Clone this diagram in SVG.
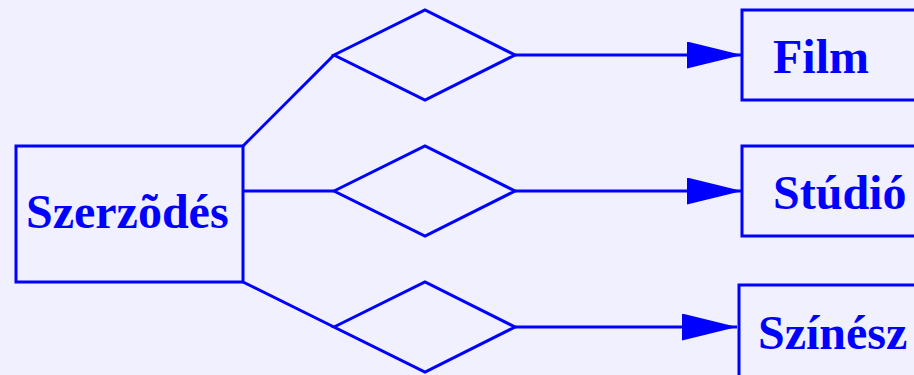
<svg xmlns="http://www.w3.org/2000/svg" width="914" height="375" viewBox="0 0 914 375">
<defs>
<style>
.s{fill:none;stroke:#0000ff;stroke-width:3}
.t{font-family:"Liberation Serif","Times New Roman",serif;font-weight:bold;font-size:48px;fill:#0000ff}
</style>
<marker id="ah" markerUnits="userSpaceOnUse" markerWidth="56" markerHeight="28" refX="55" refY="13.5" orient="auto">
<polygon points="0,0 55,13.5 0,27" fill="#0000ff"/>
</marker>
</defs>
<rect width="914" height="375" fill="#f0f0ff"/>
<g id="connectors" class="s">
<line x1="243" y1="146" x2="334" y2="55"/>
<line x1="243" y1="191" x2="334" y2="191"/>
<line x1="243" y1="282" x2="334" y2="327"/>
<line x1="515" y1="55" x2="742" y2="55" marker-end="url(#ah)"/>
<line x1="515" y1="191" x2="742" y2="191" marker-end="url(#ah)"/>
<line x1="515" y1="327" x2="737" y2="327" marker-end="url(#ah)"/>
</g>
<g id="szerzodes"><rect class="s" x="16" y="146" width="227" height="136"/><text class="t" x="26" y="228">Szerzõdés</text></g>
<g id="rel1"><polygon class="s" points="334,55 425,10 515,55 425,100"/></g>
<g id="rel2"><polygon class="s" points="334,191 425,146 515,191 425,236"/></g>
<g id="rel3"><polygon class="s" points="334,327 425,282 515,327 425,372"/></g>
<g id="film"><rect class="s" x="742" y="10" width="190" height="90"/><text class="t" x="773" y="73">Film</text></g>
<g id="studio"><rect class="s" x="742" y="146" width="190" height="90"/><text class="t" x="773" y="209">Stúdió</text></g>
<g id="szinesz"><rect class="s" x="739" y="285" width="190" height="100"/><text class="t" x="758" y="349">Színész</text></g>
</svg>
